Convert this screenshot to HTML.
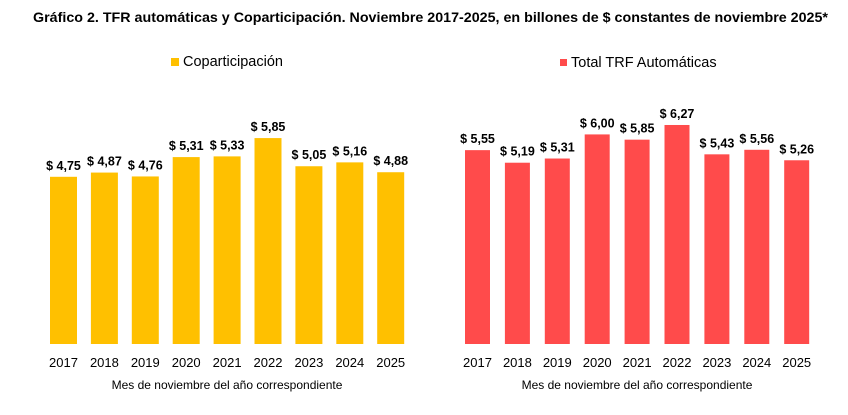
<!DOCTYPE html>
<html><head><meta charset="utf-8"><style>
body{margin:0;background:#fff;}
svg text{font-family:"Liberation Sans",sans-serif;fill:#000;}
</style></head><body>
<svg width="848" height="410" xmlns="http://www.w3.org/2000/svg">
<text x="33" y="22" font-size="14" font-weight="bold" textLength="795" lengthAdjust="spacingAndGlyphs">Gráfico 2. TFR automáticas y Coparticipación. Noviembre 2017-2025, en billones de $ constantes de noviembre 2025*</text>
<rect x="171" y="58" width="8" height="8" fill="#FFC000"/>
<text x="183" y="66" font-size="14.5">Coparticipación</text>
<rect x="560" y="59" width="7" height="7" fill="#FF4B4B"/>
<text x="571" y="67" font-size="14.5">Total TRF Automáticas</text>
<g id="left"></g>
<g id="right"></g>
<text x="227" y="389" font-size="12" text-anchor="middle">Mes de noviembre del año correspondiente</text>
<text x="637" y="389" font-size="12" text-anchor="middle">Mes de noviembre del año correspondiente</text>
</svg>
<script>
const years=["2017","2018","2019","2020","2021","2022","2023","2024","2025"];
const copart=[4.75,4.87,4.76,5.31,5.33,5.85,5.05,5.16,4.88];
const trf=[5.55,5.19,5.31,6.00,5.85,6.27,5.43,5.56,5.26];
const NS="http://www.w3.org/2000/svg";
function draw(gid,vals,x0,pitch,bw,scale,color,prefix){
  const g=document.getElementById(gid);
  const base=344;
  const y=v=>base-v*scale;
  vals.forEach((v,i)=>{
    const x=x0+i*pitch;
    const r=document.createElementNS(NS,"rect");
    r.setAttribute("x",x);r.setAttribute("y",y(v));
    r.setAttribute("width",bw);r.setAttribute("height",base-y(v));
    r.setAttribute("fill",color);
    
    
    g.appendChild(r);
    const t=document.createElementNS(NS,"text");
    t.setAttribute("x",x+bw/2);t.setAttribute("y",y(v)-7);
    t.setAttribute("text-anchor","middle");t.setAttribute("font-size","12.5");t.setAttribute("font-weight","bold");
    t.textContent="$ "+v.toFixed(2).replace(".",",");
    
    
    g.appendChild(t);
    const l=document.createElementNS(NS,"text");
    l.setAttribute("x",x+bw/2);l.setAttribute("y",367);
    l.setAttribute("text-anchor","middle");l.setAttribute("font-size","13");
    l.textContent=years[i];
    
    
    g.appendChild(l);
  });
}
draw("left",copart,50,40.9,27,35.2,"#FFC000","copart");
draw("right",trf,465,39.9,25,34.93,"#FF4B4B","trf");
</script>
</body></html>
